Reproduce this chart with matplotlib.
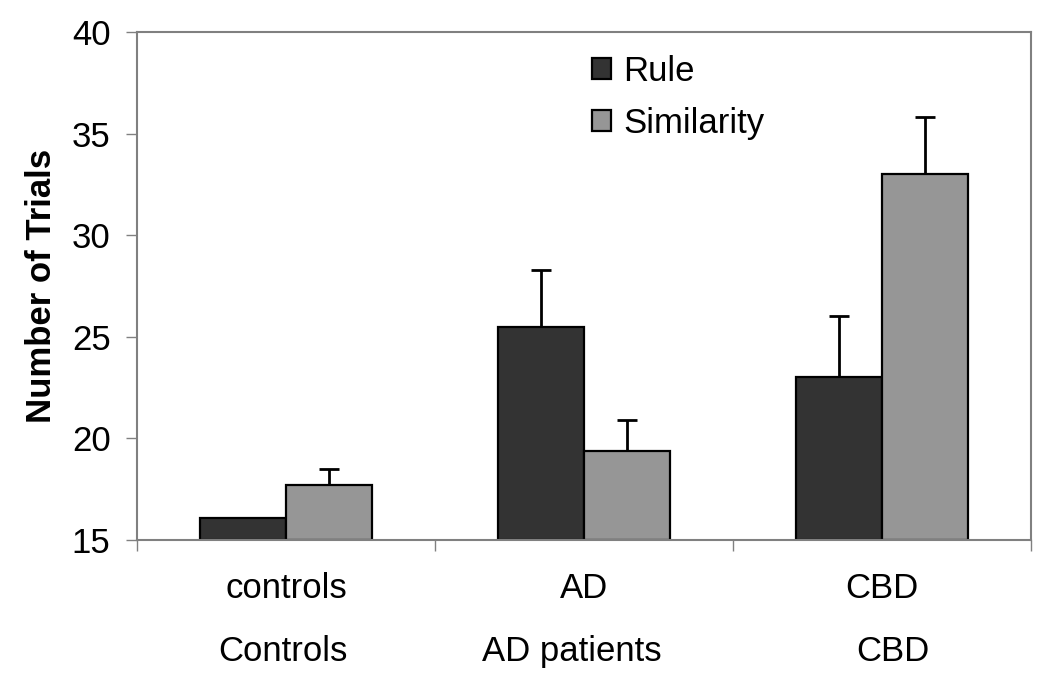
import numpy as np
import matplotlib.pyplot as plt

plt.rcParams['font.family'] = ['Liberation Sans', 'DejaVu Sans']

groups_top = ['controls', 'AD', 'CBD']
groups_bottom = ['Controls', 'AD patients', 'CBD']
rule = [16.1, 25.5, 23.0]
rule_err = [0.0, 2.8, 3.0]
similarity = [17.7, 19.4, 33.0]
similarity_err = [0.8, 1.5, 2.8]

fig = plt.figure(figsize=(10.5, 6.81), dpi=100)
ax = fig.add_axes([137/1050, 1 - 540/681, (1031-137)/1050, (540-32)/681])

x = np.arange(len(groups_top))
w = 0.29
base = 15
ax.bar(x - w/2, np.array(rule) - base, w, bottom=base, color='#333333',
       edgecolor='black', linewidth=1.6, label='Rule', zorder=2)
ax.bar(x + w/2, np.array(similarity) - base, w, bottom=base, color='#969696',
       edgecolor='black', linewidth=1.6, label='Similarity', zorder=2)

# upper error bars only
for xs, vals, errs in [(x - w/2, rule, rule_err), (x + w/2, similarity, similarity_err)]:
    vals = np.array(vals)
    errs = np.array(errs)
    m = errs > 0
    _, caps, _ = ax.errorbar(xs[m], vals[m], yerr=[np.zeros(m.sum()), errs[m]],
                             fmt='none', ecolor='black', elinewidth=2,
                             capsize=7.5, capthick=2, zorder=1)
    caps[0].set_visible(False)

ax.set_xlim(-0.5, 2.5)
ax.set_ylim(15, 40)
ax.set_yticks(range(15, 41, 5))
ax.set_xticks([-0.5, 0.5, 1.5, 2.5])
ax.set_xticklabels([])
ax.tick_params(axis='both', direction='out', length=8, color='#808080', width=1)
ax.tick_params(axis='y', labelsize=25, pad=11)
for s in ax.spines.values():
    s.set_color('#808080')
    s.set_linewidth(1.5)

# second label row is not quite centred in the original
shift = [-0.01, -0.04, 0.035]
for i in range(3):
    ax.text(x[i], -0.095, groups_top[i], transform=ax.get_xaxis_transform(),
            ha='center', va='center', fontsize=25)
    ax.text(x[i] + shift[i], -0.219, groups_bottom[i], transform=ax.get_xaxis_transform(),
            ha='center', va='center', fontsize=25)

ax.set_ylabel('Number of Trials', fontsize=25, fontweight='bold', labelpad=10)

ax.legend(loc='upper left', bbox_to_anchor=(0.474, 1.017), frameon=False,
          fontsize=25, handlelength=0.55, handleheight=0.55, handletextpad=0.35,
          labelspacing=0.55)

fig.savefig('out.png', dpi=100)
